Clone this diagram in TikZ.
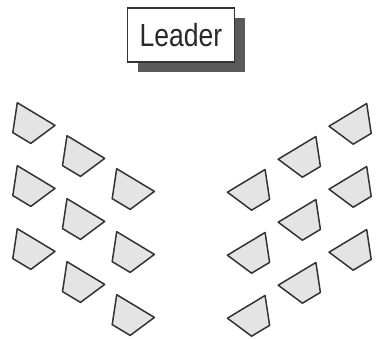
\documentclass[tikz,border=0pt]{standalone}
\usepackage{fontspec}
\newfontfamily\leaderfont{Liberation Sans}[FakeStretch=0.83]
\usepackage{tikz}
\usetikzlibrary{shadows}

\definecolor{deskfill}{HTML}{E4E4E4}
\definecolor{edgegray}{HTML}{333333}
\definecolor{shadowgray}{HTML}{5A5A5A}

\begin{document}
\begin{tikzpicture}[
      x=1pt, y=-1pt,
      box/.style={draw=edgegray, line width=1.2pt, fill=white,
        minimum width=107pt, minimum height=54pt, inner sep=0pt,
        font=\leaderfont\fontsize{32}{34}\selectfont, text=edgegray!80!black,
        drop shadow={shadow xshift=10pt, shadow yshift=-10pt,
          opacity=1, fill=shadowgray}},
      deskline/.style={draw=edgegray, fill=deskfill, line width=1.5pt,
        line join=round},
      desk/.pic={\path[deskline] (0,0) -- (37.7,22.7) -- (13.5,40.7)
        -- (-4.5,29.9) -- cycle;}
    ]
    \useasboundingbox (0,0) rectangle (381,339);
    \node[box] (leader) at (181,35) {Leader};

    % left block of desks
    \foreach \c in {0,1,2}
      \foreach \r in {0,1,2}
        \pic at ({17.3+49.7*\c},{102.7+33*\c+63*\r}) {desk};
    % right block, mirrored
    \foreach \c in {0,1,2}
      \foreach \r in {0,1,2}
        \pic[xscale=-1] at ({366.7-50.8*\c},{103.5+33*\c+63*\r}) {desk};
  \end{tikzpicture}
\end{document}
